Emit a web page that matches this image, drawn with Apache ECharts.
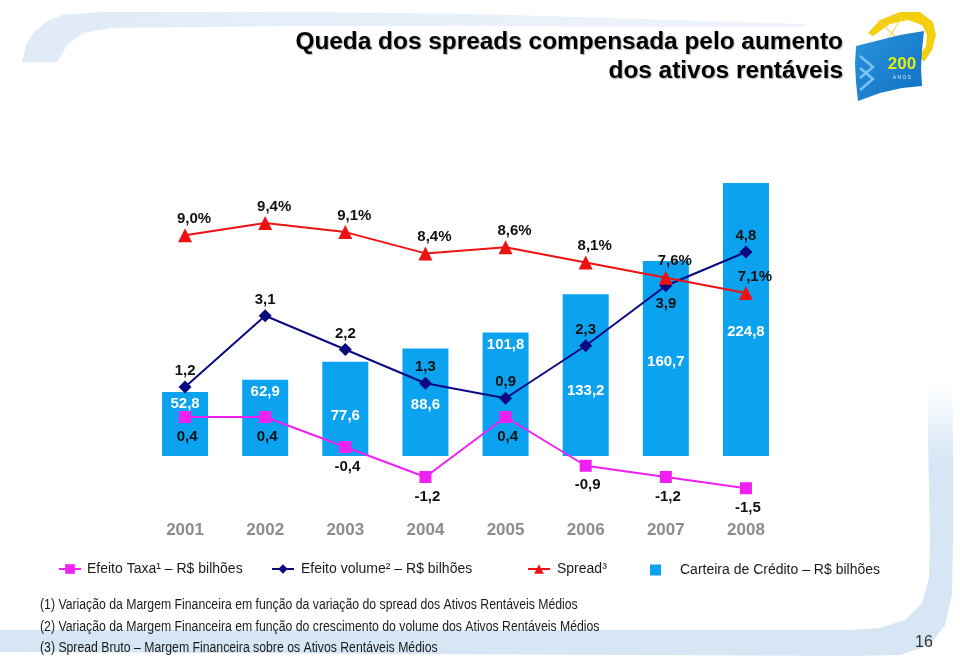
<!DOCTYPE html>
<html><head><meta charset="utf-8">
<script src="https://cdn.jsdelivr.net/npm/echarts@6/dist/echarts.min.js"></script>
<style>html,body{margin:0;padding:0;background:#fff}#c{width:960px;height:664px}</style>
</head><body><div id="c"></div>
<script>
// ---- data ----
const years = ['2001', '2002', '2003', '2004', '2005', '2006', '2007', '2008'];
const carteira = [52.8, 62.9, 77.6, 88.6, 101.8, 133.2, 160.7, 224.8];
const efeitoTaxa = [0.4, 0.4, -0.4, -1.2, 0.4, -0.9, -1.2, -1.5];
const efeitoVolume = [1.2, 3.1, 2.2, 1.3, 0.9, 2.3, 3.9, 4.8];
const spread = [9.0, 9.4, 9.1, 8.4, 8.6, 8.1, 7.6, 7.1];
// ---- label layout (not data) ----
const barLabelDrop = [12, 13, 55, 57, 13, 97, 101, 149];
const volumeLabelSide = ['top', 'top', 'top', 'top', 'top', 'top', 'bottom', 'top'];

const FONT = "'Liberation Sans', Arial, Helvetica, sans-serif";
const br = v => v.toFixed(1).replace('.', ',');
const C_BAR = '#0ba2f0', C_TAXA = '#f020f0', C_VOL = '#0a0a80', C_SPREAD = '#ee1111';

const chart = echarts.init(document.getElementById('c'), null, {renderer: 'canvas'});

const lblBase = {show: true, color: '#111', fontFamily: FONT, fontWeight: 'bold', fontSize: 15};
const legText = pad => ({fontFamily: FONT, fontSize: 14, color: '#1a1a1a', padding: [0, 0, 0, pad]});

const footnotes = [
  '(1) Variação da Margem Financeira em função da variação do spread dos Ativos Rentáveis Médios',
  '(2) Variação da Margem Financeira em função do crescimento do volume dos Ativos Rentáveis Médios',
  '(3) Spread Bruto – Margem Financeira sobre os Ativos Rentáveis Médios'
];
const footY = [605, 627, 648];

const option = {
  animation: false,
  backgroundColor: '#fff',
  grid: {left: 145, right: 174, top: 150, bottom: 164},
  xAxis: {
    type: 'category', data: years,
    axisLine: {show: false}, axisTick: {show: false}, splitLine: {show: false},
    axisLabel: {color: '#8c8c8c', fontFamily: FONT, fontSize: 17, fontWeight: 'bold', margin: 22}
  },
  yAxis: [
    {type: 'value', min: -36.24, max: 252.06, show: false, splitLine: {show: false}},
    {type: 'value', min: -1.813, max: 7.52, show: false, splitLine: {show: false}},
    {type: 'value', min: 0.288, max: 11.801, show: false, splitLine: {show: false}}
  ],
  legend: [
    {data: ['Efeito Taxa¹ – R$ bilhões'], left: 53, top: 557, itemWidth: 22, itemHeight: 12, textStyle: legText(1)},
    {data: ['Efeito volume² – R$ bilhões'], left: 266, top: 557, itemWidth: 22, itemHeight: 12, textStyle: legText(2)},
    {data: ['Spread³'], left: 522, top: 557, itemWidth: 22, itemHeight: 12, textStyle: legText(2)},
    {data: ['Carteira de Crédito – R$ bilhões'], left: 645, top: 558, itemWidth: 11, itemHeight: 11, icon: 'rect',
     textStyle: legText(14)}
  ],
  series: [
    {
      name: 'Carteira de Crédito – R$ bilhões', type: 'bar', yAxisIndex: 0, barWidth: 46,
      itemStyle: {color: C_BAR},
      data: carteira.map((v, i) => ({
        value: v,
        label: {show: true, position: 'insideTop', distance: 0, offset: [0, barLabelDrop[i] - 8]}
      })),
      label: {show: true, color: '#fff', fontFamily: FONT, fontWeight: 'bold', fontSize: 15, formatter: p => br(p.value)},
      z: 1
    },
    {
      name: 'Efeito Taxa¹ – R$ bilhões', type: 'line', yAxisIndex: 1, data: efeitoTaxa,
      symbol: 'rect', symbolSize: 12, lineStyle: {color: C_TAXA, width: 2}, itemStyle: {color: C_TAXA},
      label: Object.assign({}, lblBase, {position: 'bottom', distance: 6, offset: [2, 0], formatter: p => br(p.value)}),
      z: 3
    },
    {
      name: 'Efeito volume² – R$ bilhões', type: 'line', yAxisIndex: 1,
      data: efeitoVolume.map((v, i) => ({value: v, label: {position: volumeLabelSide[i], distance: volumeLabelSide[i] === 'top' ? 2 : 4}})),
      symbol: 'diamond', symbolSize: 13, lineStyle: {color: C_VOL, width: 2}, itemStyle: {color: C_VOL},
      label: Object.assign({}, lblBase, {position: 'top', distance: 2, formatter: p => br(p.value)}),
      z: 4
    },
    {
      name: 'Spread³', type: 'line', yAxisIndex: 2, data: spread,
      symbol: 'triangle', symbolSize: 14, lineStyle: {color: C_SPREAD, width: 2}, itemStyle: {color: C_SPREAD},
      label: Object.assign({}, lblBase, {position: 'top', distance: 2, offset: [9, 0], formatter: p => br(p.value) + '%'}),
      z: 5
    }
  ],
  graphic: [
    // top faint band (rounded corner at top-left)
    {type: 'polygon', z: -10, shape: {points: [[22,62],[26,45],[34,32],[46,22],[62,15],[100,12],[300,12],[480,14],[805,24],
        [805,27],[480,26],[300,26],[110,28],[84,33],[68,44],[57,62]]},
     style: {fill: {type: 'linear', x: 0, y: 0, x2: 1, y2: 0, colorStops: [{offset: 0, color: '#e0ebf7'}, {offset: 1, color: '#eff4fb'}]}}},
    // bottom swoosh (rounded corner at bottom-right)
    {type: 'polygon', z: -10, shape: {points: [[0,652],[850,656],[900,655],[930,645],[945,625],[952,595],[953,540],[953,440],[952,380],
        [928,380],[928,440],[930,540],[929,578],[922,603],[905,620],[880,628],[850,630],[0,630]]},
     style: {fill: {type: 'linear', x: 0, y: 0, x2: 0, y2: 1, colorStops: [{offset: 0, color: 'rgba(214,230,245,0)'}, {offset: 0.3, color: 'rgba(214,230,245,1)'}, {offset: 1, color: 'rgba(214,230,245,1)'}]}}},
    // title
    {type: 'text', z: 10, style: {x: 843, y: 28, text: 'Queda dos spreads compensada pelo aumento\ndos ativos rentáveis',
      textAlign: 'right', textVerticalAlign: 'top', lineHeight: 29, font: 'bold 24.4px ' + FONT, fill: '#000',
      textShadowColor: 'rgba(0,0,0,0.3)', textShadowOffsetX: 1, textShadowOffsetY: 1, textShadowBlur: 1}},
    // logo: yellow crescent
    {type: 'polygon', z: 10, shape: {points: [[868,33],[880,20],[900,12],[920,12],[933,22],[936,35],[932,50],[924,62],
        [919,56],[926,46],[927,35],[922,25],[908,20],[890,24],[873,36]]},
     style: {fill: '#f4cf10'}},
    {type: 'line', z: 10, shape: {x1: 878, y1: 20, x2: 905, y2: 46}, style: {stroke: '#f4dd60', lineWidth: 1.2}},
    {type: 'line', z: 10, shape: {x1: 902, y1: 18, x2: 884, y2: 44}, style: {stroke: '#f4dd60', lineWidth: 1.2}},
    // logo: blue flag
    {type: 'polygon', z: 11, shape: {points: [[856,46],[876,41],[900,35],[924,31],[922,50],[921,68],[922,86],[902,88],[880,93],[858,101],[856,82],[855,64]]},
     style: {fill: {type: 'linear', x: 0, y: 0, x2: 1, y2: 1, colorStops: [{offset: 0, color: '#2c94dc'}, {offset: 1, color: '#0e6fc2'}]}}},
    {type: 'polyline', z: 12, shape: {points: [[860,56],[873,67],[860,78]]}, style: {stroke: '#7cc4f0', lineWidth: 2.5, fill: null}},
    {type: 'polyline', z: 12, shape: {points: [[860,68],[873,79],[860,90]]}, style: {stroke: '#7cc4f0', lineWidth: 2.5, fill: null}},
    {type: 'text', z: 12, style: {x: 902, y: 64, text: '200', textAlign: 'center', textVerticalAlign: 'middle',
      font: 'bold 17px ' + FONT, fill: '#e4ec10'}},
    {type: 'text', z: 12, style: {x: 902, y: 78, text: 'A N O S', textAlign: 'center', textVerticalAlign: 'middle',
      font: '5px ' + FONT, fill: '#d8ecff'}},
    // page number
    {type: 'text', z: 10, style: {x: 924, y: 643, textAlign: 'center', textVerticalAlign: 'middle', font: '16px ' + FONT, fill: '#333',
      text: '16'}}
  ].concat(footnotes.map((t, i) => ({
    type: 'text', z: 10, x: 40, y: footY[i], scaleX: 0.875,
    style: {x: 0, y: 0, textVerticalAlign: 'middle', font: '14px ' + FONT, fill: '#1a1a1a', text: t}
  })))
};
chart.setOption(option);
</script>
</body></html>
